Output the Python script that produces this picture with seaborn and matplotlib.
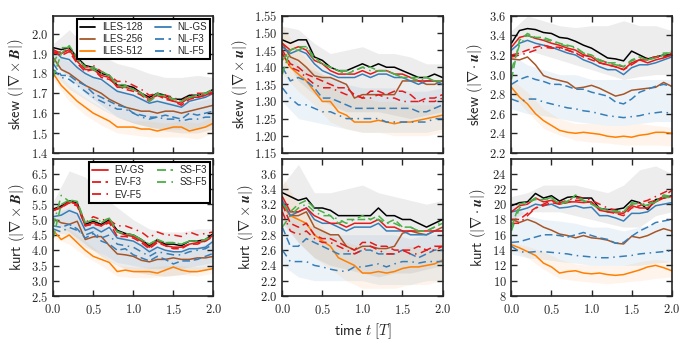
import numpy as np
import pandas as pd
import matplotlib
matplotlib.use("Agg")
import matplotlib.pyplot as plt
import seaborn as sns
from matplotlib.lines import Line2D
from matplotlib.ticker import FormatStrFormatter

# time axis
t = [0.0, 0.1, 0.2, 0.3, 0.4, 0.5, 0.6, 0.7, 0.8, 0.9, 1.0,
     1.1, 1.2, 1.3, 1.4, 1.5, 1.6, 1.7, 1.8, 1.9, 2.0]
t_band = [0.0, 0.2, 0.4, 0.6, 0.8, 1.0, 1.2, 1.4, 1.6, 1.8, 2.0]

models = ["ILES-128", "ILES-256", "ILES-512", "NL-GS", "NL-F3", "NL-F5",
          "EV-GS", "EV-F3", "EV-F5", "SS-F3", "SS-F5"]

# skew(|curl B|)
skew_curlB = {
    "ILES-128": [1.93, 1.92, 1.93, 1.88, 1.84, 1.83, 1.80, 1.79, 1.74, 1.74, 1.73, 1.70, 1.68, 1.70, 1.69, 1.67, 1.67, 1.69, 1.69, 1.70, 1.72],
    "ILES-256": [1.88, 1.82, 1.80, 1.77, 1.74, 1.72, 1.70, 1.67, 1.65, 1.63, 1.62, 1.61, 1.61, 1.60, 1.61, 1.61, 1.60, 1.61, 1.62, 1.63, 1.64],
    "ILES-512": [1.80, 1.74, 1.70, 1.66, 1.63, 1.60, 1.58, 1.56, 1.53, 1.53, 1.53, 1.52, 1.52, 1.51, 1.52, 1.53, 1.53, 1.51, 1.52, 1.53, 1.55],
    "NL-GS":    [1.92, 1.88, 1.87, 1.83, 1.80, 1.78, 1.77, 1.74, 1.71, 1.70, 1.69, 1.67, 1.65, 1.66, 1.65, 1.64, 1.63, 1.66, 1.67, 1.68, 1.70],
    "NL-F3":    [1.85, 1.79, 1.79, 1.76, 1.74, 1.70, 1.68, 1.66, 1.64, 1.63, 1.60, 1.59, 1.58, 1.58, 1.59, 1.58, 1.57, 1.60, 1.59, 1.60, 1.61],
    "NL-F5":    [1.82, 1.78, 1.77, 1.74, 1.71, 1.68, 1.66, 1.64, 1.62, 1.62, 1.60, 1.58, 1.57, 1.58, 1.57, 1.57, 1.56, 1.57, 1.57, 1.58, 1.58],
    "EV-GS":    [1.92, 1.90, 1.92, 1.86, 1.82, 1.82, 1.79, 1.78, 1.73, 1.73, 1.72, 1.70, 1.67, 1.69, 1.68, 1.66, 1.65, 1.68, 1.68, 1.69, 1.71],
    "EV-F3":    [1.91, 1.89, 1.91, 1.85, 1.81, 1.82, 1.78, 1.77, 1.74, 1.72, 1.71, 1.69, 1.66, 1.69, 1.67, 1.66, 1.64, 1.67, 1.68, 1.69, 1.70],
    "EV-F5":    [1.90, 1.91, 1.92, 1.87, 1.83, 1.84, 1.81, 1.79, 1.76, 1.76, 1.74, 1.72, 1.69, 1.70, 1.69, 1.68, 1.66, 1.69, 1.70, 1.70, 1.72],
    "SS-F3":    [1.78, 1.90, 1.94, 1.88, 1.83, 1.83, 1.81, 1.79, 1.74, 1.73, 1.72, 1.70, 1.66, 1.69, 1.69, 1.67, 1.66, 1.68, 1.69, 1.70, 1.71],
    "SS-F5":    [1.85, 1.93, 1.93, 1.87, 1.84, 1.82, 1.80, 1.79, 1.75, 1.74, 1.72, 1.70, 1.67, 1.70, 1.68, 1.67, 1.66, 1.68, 1.69, 1.70, 1.72],
}
skew_curlB_band = {
    "grey":   ([1.85, 1.78, 1.70, 1.64, 1.58, 1.55, 1.53, 1.51, 1.50, 1.50, 1.52],
               [1.95, 2.02, 1.94, 1.89, 1.85, 1.83, 1.80, 1.78, 1.78, 1.79, 1.78]),
    "blue":   ([1.80, 1.72, 1.67, 1.62, 1.58, 1.55, 1.53, 1.52, 1.52, 1.52, 1.54],
               [1.90, 1.86, 1.80, 1.76, 1.72, 1.69, 1.67, 1.66, 1.65, 1.66, 1.68]),
    "orange": ([1.77, 1.66, 1.59, 1.54, 1.50, 1.49, 1.48, 1.48, 1.48, 1.47, 1.50],
               [1.83, 1.74, 1.68, 1.63, 1.58, 1.56, 1.56, 1.55, 1.56, 1.55, 1.58]),
}

# kurt(|curl B|)
kurt_curlB = {
    "ILES-128": [5.35, 5.45, 5.62, 5.55, 4.85, 4.95, 4.85, 5.00, 4.65, 4.55, 4.50, 4.35, 4.15, 4.35, 4.20, 4.20, 4.15, 4.30, 4.30, 4.35, 4.55],
    "ILES-256": [5.03, 4.90, 4.85, 4.95, 4.35, 4.44, 4.45, 4.15, 3.88, 3.85, 3.80, 3.67, 3.62, 3.70, 3.70, 3.75, 3.70, 3.70, 3.75, 3.75, 3.80],
    "ILES-512": [4.65, 4.35, 4.50, 4.25, 4.00, 3.80, 3.70, 3.60, 3.30, 3.35, 3.30, 3.30, 3.30, 3.25, 3.35, 3.45, 3.35, 3.30, 3.30, 3.35, 3.40],
    "NL-GS":    [5.10, 5.15, 5.30, 5.20, 4.65, 4.75, 4.60, 4.75, 4.40, 4.35, 4.30, 4.15, 3.95, 4.10, 4.00, 3.95, 3.95, 4.05, 4.05, 4.10, 4.30],
    "NL-F3":    [4.80, 4.75, 4.85, 4.70, 4.40, 4.55, 4.30, 4.20, 4.00, 4.05, 3.85, 3.75, 3.65, 3.80, 3.70, 3.55, 3.65, 3.65, 3.70, 3.80, 3.90],
    "NL-F5":    [4.70, 4.60, 4.75, 4.65, 4.50, 4.60, 4.40, 4.50, 4.20, 4.15, 4.10, 3.95, 3.80, 3.95, 3.90, 3.85, 3.85, 3.95, 4.00, 4.05, 4.20],
    "EV-GS":    [5.30, 5.40, 5.60, 5.50, 4.80, 4.90, 4.80, 4.95, 4.60, 4.50, 4.45, 4.30, 4.10, 4.30, 4.15, 4.10, 4.10, 4.20, 4.25, 4.30, 4.50],
    "EV-F3":    [5.30, 5.40, 5.55, 5.45, 4.80, 4.85, 4.80, 4.90, 4.45, 4.45, 4.40, 4.25, 4.05, 4.25, 4.15, 4.05, 4.05, 4.20, 4.20, 4.30, 4.45],
    "EV-F5":    [5.30, 5.45, 5.60, 5.50, 4.90, 5.10, 5.00, 5.00, 4.80, 4.80, 4.70, 4.60, 4.40, 4.60, 4.50, 4.50, 4.45, 4.60, 4.50, 4.55, 4.60],
    "SS-F3":    [4.40, 5.50, 5.65, 5.60, 4.90, 5.00, 4.90, 5.05, 4.60, 4.55, 4.50, 4.35, 4.20, 4.35, 4.25, 4.25, 4.20, 4.30, 4.30, 4.35, 4.50],
    "SS-F5":    [4.80, 5.80, 5.60, 5.55, 4.90, 5.00, 4.95, 5.05, 4.60, 4.55, 4.50, 4.35, 4.20, 4.35, 4.25, 4.25, 4.20, 4.30, 4.30, 4.35, 4.50],
}
kurt_curlB_band = {
    "grey":   ([4.9, 4.6, 4.2, 3.8, 3.5, 3.3, 3.2, 3.15, 3.2, 3.3, 3.4],
               [5.6, 6.6, 6.4, 5.8, 5.4, 5.0, 4.7, 4.6, 4.6, 4.7, 4.7]),
    "blue":   ([4.6, 4.5, 4.1, 3.9, 3.6, 3.5, 3.4, 3.4, 3.4, 3.5, 3.6],
               [5.2, 5.4, 5.0, 4.8, 4.5, 4.3, 4.1, 4.0, 4.0, 4.1, 4.3]),
    "orange": ([4.4, 4.2, 3.8, 3.5, 3.15, 3.1, 3.1, 3.15, 3.2, 3.15, 3.25],
               [4.8, 4.7, 4.3, 3.9, 3.5, 3.45, 3.45, 3.5, 3.5, 3.45, 3.5]),
}

# skew(|curl u|)
skew_curlu = {
    "ILES-128": [1.48, 1.47, 1.48, 1.48, 1.43, 1.42, 1.40, 1.39, 1.39, 1.40, 1.41, 1.40, 1.41, 1.40, 1.40, 1.39, 1.38, 1.37, 1.37, 1.38, 1.37],
    "ILES-256": [1.47, 1.43, 1.42, 1.40, 1.375, 1.37, 1.37, 1.36, 1.35, 1.31, 1.32, 1.32, 1.32, 1.32, 1.32, 1.36, 1.36, 1.36, 1.35, 1.35, 1.36],
    "ILES-512": [1.44, 1.40, 1.38, 1.36, 1.33, 1.30, 1.30, 1.27, 1.26, 1.24, 1.24, 1.24, 1.245, 1.24, 1.235, 1.24, 1.24, 1.245, 1.25, 1.255, 1.26],
    "NL-GS":    [1.46, 1.44, 1.45, 1.44, 1.41, 1.39, 1.38, 1.37, 1.37, 1.37, 1.38, 1.37, 1.38, 1.38, 1.37, 1.37, 1.36, 1.35, 1.36, 1.36, 1.35],
    "NL-F3":    [1.40, 1.36, 1.37, 1.36, 1.34, 1.31, 1.31, 1.30, 1.29, 1.28, 1.28, 1.28, 1.28, 1.28, 1.28, 1.28, 1.28, 1.27, 1.27, 1.28, 1.29],
    "NL-F5":    [1.34, 1.31, 1.29, 1.29, 1.28, 1.27, 1.27, 1.26, 1.25, 1.25, 1.25, 1.25, 1.25, 1.24, 1.24, 1.24, 1.24, 1.24, 1.24, 1.25, 1.25],
    "EV-GS":    [1.47, 1.45, 1.46, 1.45, 1.42, 1.41, 1.39, 1.38, 1.38, 1.38, 1.39, 1.38, 1.39, 1.39, 1.38, 1.38, 1.37, 1.36, 1.36, 1.36, 1.36],
    "EV-F3":    [1.45, 1.41, 1.40, 1.38, 1.37, 1.36, 1.35, 1.34, 1.34, 1.32, 1.31, 1.33, 1.33, 1.32, 1.33, 1.33, 1.32, 1.30, 1.31, 1.31, 1.32],
    "EV-F5":    [1.44, 1.40, 1.39, 1.37, 1.35, 1.34, 1.34, 1.33, 1.32, 1.32, 1.31, 1.31, 1.32, 1.31, 1.31, 1.30, 1.30, 1.30, 1.30, 1.30, 1.31],
    "SS-F3":    [1.38, 1.45, 1.46, 1.46, 1.43, 1.41, 1.40, 1.39, 1.38, 1.39, 1.40, 1.40, 1.39, 1.39, 1.38, 1.37, 1.37, 1.37, 1.37, 1.36, 1.36],
    "SS-F5":    [1.42, 1.45, 1.45, 1.46, 1.42, 1.41, 1.40, 1.39, 1.39, 1.39, 1.40, 1.39, 1.39, 1.39, 1.38, 1.37, 1.37, 1.36, 1.37, 1.36, 1.36],
}
skew_curlu_band = {
    "grey":   ([1.44, 1.36, 1.32, 1.29, 1.27, 1.27, 1.27, 1.26, 1.25, 1.26, 1.27],
               [1.52, 1.51, 1.47, 1.44, 1.45, 1.46, 1.44, 1.44, 1.43, 1.41, 1.41]),
    "blue":   ([1.30, 1.25, 1.24, 1.23, 1.22, 1.21, 1.21, 1.21, 1.21, 1.21, 1.22],
               [1.46, 1.41, 1.39, 1.37, 1.35, 1.34, 1.34, 1.34, 1.33, 1.33, 1.34]),
    "orange": ([1.38, 1.33, 1.29, 1.24, 1.22, 1.21, 1.21, 1.20, 1.20, 1.20, 1.21],
               [1.52, 1.45, 1.40, 1.36, 1.32, 1.31, 1.30, 1.30, 1.29, 1.29, 1.29]),
}

# kurt(|curl u|)
kurt_curlu = {
    "ILES-128": [3.35, 3.30, 3.25, 3.28, 3.15, 3.15, 3.12, 3.05, 3.05, 3.05, 3.05, 3.05, 3.15, 3.05, 3.05, 3.00, 3.00, 2.95, 2.90, 2.95, 3.00],
    "ILES-256": [3.20, 3.05, 3.05, 3.10, 2.90, 2.85, 2.80, 2.80, 2.65, 2.60, 2.65, 2.65, 2.62, 2.62, 2.65, 2.82, 2.85, 2.82, 2.80, 2.85, 2.90],
    "ILES-512": [3.20, 3.05, 3.00, 2.95, 2.80, 2.72, 2.65, 2.50, 2.45, 2.40, 2.30, 2.30, 2.32, 2.30, 2.32, 2.36, 2.38, 2.38, 2.40, 2.42, 2.47],
    "NL-GS":    [3.25, 3.05, 3.10, 3.15, 3.00, 2.95, 2.95, 2.90, 2.85, 2.90, 2.90, 2.90, 2.95, 2.85, 2.85, 2.85, 2.80, 2.80, 2.80, 2.85, 2.85],
    "NL-F3":    [2.90, 2.65, 2.65, 2.75, 2.70, 2.65, 2.60, 2.55, 2.55, 2.55, 2.60, 2.60, 2.55, 2.55, 2.55, 2.60, 2.55, 2.50, 2.55, 2.60, 2.60],
    "NL-F5":    [2.60, 2.45, 2.45, 2.45, 2.40, 2.38, 2.35, 2.33, 2.32, 2.38, 2.38, 2.40, 2.42, 2.38, 2.42, 2.45, 2.45, 2.43, 2.45, 2.45, 2.45],
    "EV-GS":    [3.30, 3.10, 3.10, 3.15, 3.05, 3.00, 2.95, 2.95, 2.90, 2.95, 2.95, 2.95, 3.00, 2.90, 2.90, 2.85, 2.85, 2.85, 2.85, 2.85, 2.85],
    "EV-F3":    [3.20, 2.95, 2.90, 2.95, 2.80, 2.75, 2.75, 2.70, 2.65, 2.60, 2.70, 2.70, 2.65, 2.65, 2.60, 2.60, 2.60, 2.65, 2.60, 2.65, 2.65],
    "EV-F5":    [3.10, 2.85, 2.80, 2.85, 2.75, 2.70, 2.70, 2.65, 2.60, 2.55, 2.60, 2.65, 2.60, 2.55, 2.55, 2.60, 2.55, 2.55, 2.60, 2.60, 2.65],
    "SS-F3":    [3.20, 3.10, 3.20, 3.25, 3.15, 3.10, 3.05, 2.95, 3.00, 3.00, 3.05, 3.00, 3.05, 2.95, 3.00, 2.90, 2.90, 2.85, 2.85, 2.90, 2.95],
    "SS-F5":    [2.90, 3.05, 3.15, 3.20, 3.10, 3.05, 3.05, 3.00, 2.95, 3.00, 3.00, 3.00, 3.00, 2.95, 2.95, 2.90, 2.90, 2.85, 2.85, 2.90, 3.00],
}
kurt_curlu_band = {
    "grey":   ([2.95, 2.70, 2.50, 2.40, 2.35, 2.30, 2.25, 2.30, 2.30, 2.35, 2.40],
               [3.45, 3.72, 3.35, 3.35, 3.40, 3.45, 3.35, 3.30, 3.25, 3.20, 3.25]),
    "blue":   ([2.40, 2.25, 2.20, 2.20, 2.20, 2.20, 2.15, 2.15, 2.15, 2.20, 2.20],
               [3.30, 3.00, 2.90, 2.80, 2.80, 2.80, 2.80, 2.80, 2.75, 2.80, 2.80]),
    "orange": ([3.00, 2.70, 2.50, 2.35, 2.20, 2.10, 2.10, 2.10, 2.15, 2.15, 2.20],
               [3.55, 3.20, 3.00, 2.80, 2.70, 2.65, 2.60, 2.60, 2.65, 2.60, 2.70]),
}

# skew(|div u|)
skew_divu = {
    "ILES-128": [3.32, 3.45, 3.47, 3.46, 3.43, 3.42, 3.38, 3.37, 3.34, 3.30, 3.27, 3.22, 3.17, 3.16, 3.14, 3.24, 3.20, 3.16, 3.18, 3.20, 3.20],
    "ILES-256": [3.16, 3.15, 3.18, 3.10, 2.99, 2.96, 2.94, 2.92, 2.86, 2.87, 2.89, 2.86, 2.82, 2.78, 2.80, 2.84, 2.85, 2.86, 2.87, 2.92, 2.88],
    "ILES-512": [2.87, 2.77, 2.70, 2.60, 2.53, 2.48, 2.43, 2.41, 2.40, 2.41, 2.40, 2.39, 2.37, 2.36, 2.37, 2.36, 2.38, 2.39, 2.41, 2.41, 2.40],
    "NL-GS":    [3.25, 3.32, 3.35, 3.32, 3.30, 3.28, 3.25, 3.22, 3.20, 3.15, 3.12, 3.08, 3.05, 3.05, 3.00, 3.07, 3.10, 3.10, 3.12, 3.15, 3.18],
    "NL-F3":    [2.90, 2.95, 2.98, 2.95, 2.93, 2.90, 2.90, 2.88, 2.85, 2.85, 2.82, 2.80, 2.78, 2.72, 2.70, 2.75, 2.82, 2.85, 2.88, 2.90, 2.88],
    "NL-F5":    [2.75, 2.72, 2.75, 2.75, 2.72, 2.70, 2.68, 2.66, 2.65, 2.63, 2.62, 2.60, 2.58, 2.57, 2.56, 2.57, 2.58, 2.60, 2.61, 2.62, 2.60],
    "EV-GS":    [3.28, 3.38, 3.40, 3.37, 3.35, 3.32, 3.30, 3.27, 3.25, 3.20, 3.18, 3.12, 3.10, 3.08, 3.05, 3.12, 3.15, 3.12, 3.15, 3.17, 3.20],
    "EV-F3":    [3.20, 3.22, 3.25, 3.28, 3.30, 3.28, 3.28, 3.25, 3.22, 3.18, 3.15, 3.12, 3.10, 3.08, 3.05, 3.10, 3.15, 3.15, 3.18, 3.18, 3.20],
    "EV-F5":    [3.18, 3.20, 3.22, 3.25, 3.28, 3.27, 3.27, 3.25, 3.22, 3.20, 3.18, 3.15, 3.12, 3.10, 3.08, 3.12, 3.15, 3.17, 3.18, 3.20, 3.22],
    "SS-F3":    [2.95, 3.35, 3.42, 3.38, 3.38, 3.35, 3.32, 3.30, 3.28, 3.22, 3.20, 3.15, 3.12, 3.12, 3.08, 3.15, 3.18, 3.15, 3.17, 3.20, 3.24],
    "SS-F5":    [3.05, 3.30, 3.40, 3.37, 3.36, 3.34, 3.31, 3.29, 3.27, 3.22, 3.19, 3.14, 3.12, 3.10, 3.08, 3.14, 3.17, 3.15, 3.18, 3.22, 3.22],
}
skew_divu_band = {
    "grey":   ([3.15, 3.25, 3.20, 3.15, 3.10, 3.05, 3.00, 2.95, 2.98, 3.00, 3.00],
               [3.45, 3.60, 3.55, 3.50, 3.48, 3.50, 3.50, 3.55, 3.50, 3.50, 3.45]),
    "blue":   ([2.65, 2.60, 2.58, 2.55, 2.52, 2.50, 2.48, 2.48, 2.50, 2.52, 2.52],
               [3.20, 3.10, 3.05, 3.00, 3.00, 2.95, 2.95, 2.95, 2.95, 2.95, 2.95]),
    "orange": ([2.80, 2.62, 2.45, 2.38, 2.33, 2.31, 2.30, 2.28, 2.28, 2.28, 2.27],
               [2.95, 2.82, 2.65, 2.55, 2.50, 2.50, 2.48, 2.48, 2.50, 2.48, 2.46]),
}

# kurt(|div u|)
kurt_divu = {
    "ILES-128": [19.8, 20.2, 20.3, 21.4, 20.8, 21.1, 20.4, 20.9, 21.0, 20.8, 20.8, 19.4, 19.3, 19.3, 19.5, 20.5, 20.2, 19.3, 20.6, 20.8, 21.1],
    "ILES-256": [18.0, 17.6, 18.0, 17.6, 17.0, 16.6, 16.1, 15.9, 15.6, 15.9, 15.6, 15.5, 15.3, 14.9, 14.8, 15.8, 15.6, 15.9, 16.4, 16.8, 16.5],
    "ILES-512": [14.7, 14.3, 13.8, 13.3, 12.3, 11.8, 11.0, 11.2, 11.3, 11.0, 10.9, 11.0, 10.8, 10.7, 10.8, 11.1, 11.4, 11.8, 12.0, 11.7, 11.3],
    "NL-GS":    [19.0, 19.2, 19.5, 20.0, 19.8, 20.0, 19.5, 19.6, 19.8, 19.5, 19.6, 18.5, 18.5, 18.2, 17.8, 18.8, 18.8, 19.0, 19.8, 20.0, 20.2],
    "NL-F3":    [15.0, 15.1, 15.4, 15.7, 16.0, 16.0, 15.9, 15.7, 16.0, 16.3, 15.9, 15.6, 15.4, 14.9, 15.0, 15.8, 16.5, 17.0, 17.6, 17.8, 18.0],
    "NL-F5":    [14.5, 13.8, 13.7, 13.8, 13.8, 13.7, 13.6, 13.5, 13.3, 13.2, 13.1, 13.0, 13.0, 13.1, 13.2, 13.3, 13.5, 13.6, 13.7, 13.8, 13.9],
    "EV-GS":    [19.0, 19.8, 20.0, 20.8, 20.3, 20.5, 20.0, 20.3, 20.3, 20.2, 20.3, 19.2, 19.0, 18.9, 18.8, 19.8, 19.5, 19.5, 20.3, 20.8, 21.0],
    "EV-F3":    [18.0, 18.0, 18.8, 19.5, 19.8, 20.2, 20.0, 20.2, 20.5, 20.5, 20.2, 19.5, 19.0, 18.8, 18.5, 19.5, 19.8, 20.2, 20.5, 21.0, 21.8],
    "EV-F5":    [17.5, 17.5, 18.5, 19.5, 20.0, 20.5, 20.2, 20.5, 20.8, 20.8, 20.5, 20.0, 19.5, 19.2, 19.0, 20.0, 20.2, 20.5, 21.0, 21.5, 22.0],
    "SS-F3":    [17.0, 20.0, 20.3, 20.6, 20.6, 20.8, 20.0, 20.3, 21.2, 20.5, 20.0, 19.4, 19.2, 19.0, 19.0, 20.2, 20.0, 19.8, 20.3, 21.0, 20.8],
    "SS-F5":    [16.5, 19.5, 20.2, 20.8, 20.5, 20.9, 20.1, 20.4, 21.0, 20.4, 20.1, 19.5, 19.2, 19.1, 19.0, 20.0, 20.1, 19.9, 20.5, 21.2, 21.0],
}
kurt_divu_band = {
    "grey":   ([18.0, 19.0, 19.0, 19.0, 18.5, 18.0, 17.5, 17.0, 17.0, 18.5, 19.0],
               [21.0, 21.5, 22.5, 22.5, 22.5, 22.0, 21.5, 22.5, 24.5, 25.0, 24.0]),
    "blue":   ([13.5, 13.0, 12.8, 12.5, 12.3, 12.0, 12.0, 12.0, 12.0, 12.3, 12.5],
               [20.0, 18.5, 18.0, 17.8, 17.5, 17.0, 17.0, 16.5, 17.0, 17.5, 18.0]),
    "orange": ([14.3, 13.0, 11.5, 10.3, 10.0, 9.8, 9.6, 9.8, 10.0, 10.3, 10.5],
               [15.0, 14.5, 13.8, 12.8, 12.2, 12.0, 12.0, 12.0, 12.5, 12.8, 12.5]),
}

sns.set_style("ticks")
plt.rcParams["font.family"] = ["Liberation Sans", "DejaVu Sans"]
plt.rcParams["mathtext.fontset"] = "cm"
plt.rcParams["axes.linewidth"] = 1.2

set1 = sns.color_palette("Set1")
palette = {"ILES-128": "black", "ILES-256": set1[6], "ILES-512": set1[4],
           "NL-GS": set1[1], "NL-F3": set1[1], "NL-F5": set1[1],
           "EV-GS": set1[0], "EV-F3": set1[0], "EV-F5": set1[0],
           "SS-F3": set1[2], "SS-F5": set1[2]}
dash_f3 = (5, 2.5)
dash_f5 = (5, 3, 1, 3)
dash_map = {"ILES-128": "", "ILES-256": "", "ILES-512": "",
            "NL-GS": "", "NL-F3": dash_f3, "NL-F5": dash_f5,
            "EV-GS": "", "EV-F3": dash_f3, "EV-F5": dash_f5,
            "SS-F3": dash_f3, "SS-F5": dash_f5}
band_colors = {"grey": ((0.55, 0.55, 0.55), 0.15),
               "blue": (set1[1], 0.09),
               "orange": (set1[4], 0.08)}

panels = [
    (0, 0, skew_curlB, skew_curlB_band, r"$\mathsf{skew}\ (|\nabla \times \boldsymbol{B}|)$", (1.4, 2.09), np.arange(1.4, 2.01, 0.1), "%.1f"),
    (1, 0, kurt_curlB, kurt_curlB_band, r"$\mathsf{kurt}\ (|\nabla \times \boldsymbol{B}|)$", (2.5, 6.99), np.arange(2.5, 6.51, 0.5), "%.1f"),
    (0, 1, skew_curlu, skew_curlu_band, r"$\mathsf{skew}\ (|\nabla \times \boldsymbol{u}|)$", (1.15, 1.55), np.arange(1.15, 1.551, 0.05), "%.2f"),
    (1, 1, kurt_curlu, kurt_curlu_band, r"$\mathsf{kurt}\ (|\nabla \times \boldsymbol{u}|)$", (2.0, 3.79), np.arange(2.0, 3.61, 0.2), "%.1f"),
    (0, 2, skew_divu, skew_divu_band, r"$\mathsf{skew}\ (|\nabla \cdot \boldsymbol{u}|)$", (2.2, 3.6), np.arange(2.2, 3.61, 0.2), "%.1f"),
    (1, 2, kurt_divu, kurt_divu_band, r"$\mathsf{kurt}\ (|\nabla \cdot \boldsymbol{u}|)$", (8, 25.9), np.arange(8, 24.1, 2), "%d"),
]

fig, axes = plt.subplots(2, 3, figsize=(6.91, 3.45), dpi=100)
fig.subplots_adjust(left=0.077, right=0.972, top=0.954, bottom=0.142,
                    wspace=0.43, hspace=0.045)

for r, c, series, bands, ylabel, ylim, yticks, fmt in panels:
    ax = axes[r, c]
    for name, (lo, hi) in bands.items():
        col, a = band_colors[name]
        ax.fill_between(t_band, lo, hi, color=col, alpha=a, linewidth=0, zorder=0)
    df = pd.DataFrame({"t": t * len(models),
                       "value": [v for m in models for v in series[m]],
                       "model": [m for m in models for _ in t]})
    sns.lineplot(data=df, x="t", y="value", hue="model", style="model",
                 hue_order=models, style_order=models, palette=palette,
                 dashes=dash_map, linewidth=1.1, legend=False, ax=ax)
    ax.set_xlim(0, 2)
    ax.set_ylim(*ylim)
    ax.set_xticks([0, 0.5, 1.0, 1.5, 2.0])
    ax.set_yticks(yticks)
    ax.yaxis.set_major_formatter(FormatStrFormatter("$" + fmt + "$"))
    ax.xaxis.set_major_formatter(FormatStrFormatter("$%.1f$"))
    ax.tick_params(direction="in", top=True, right=True, length=4, width=1,
                   labelsize=9)
    ax.tick_params(axis="x", pad=5)
    ax.set_ylabel(ylabel, fontsize=10.5, labelpad=3)
    ax.set_xlabel("")
    if r == 0:
        ax.tick_params(labelbottom=False)

axes[1, 1].set_xlabel(r"$\mathsf{time}\ t\ [T]$", fontsize=10.5, labelpad=3)


def handles(names):
    return [Line2D([0], [0], color=palette[n], lw=1.3,
                   linestyle=(0, dash_map[n]) if dash_map[n] else "-",
                   label=n) for n in names]


leg_kw = dict(ncol=2, fontsize=7, frameon=True, fancybox=False,
              edgecolor="black", framealpha=1, handlelength=1.6,
              columnspacing=1.3, borderpad=0.3, labelspacing=0.22,
              handletextpad=0.7, borderaxespad=0.35)
l1 = axes[0, 0].legend(handles=handles(["ILES-128", "ILES-256", "ILES-512",
                                         "NL-GS", "NL-F3", "NL-F5"]),
                       loc="upper right", **leg_kw)
l2 = axes[1, 0].legend(handles=handles(["EV-GS", "EV-F3", "EV-F5",
                                         "SS-F3", "SS-F5"]),
                       loc="upper right", **leg_kw)
for leg in (l1, l2):
    leg.get_frame().set_linewidth(1.5)

fig.savefig("out.png", dpi=100)
